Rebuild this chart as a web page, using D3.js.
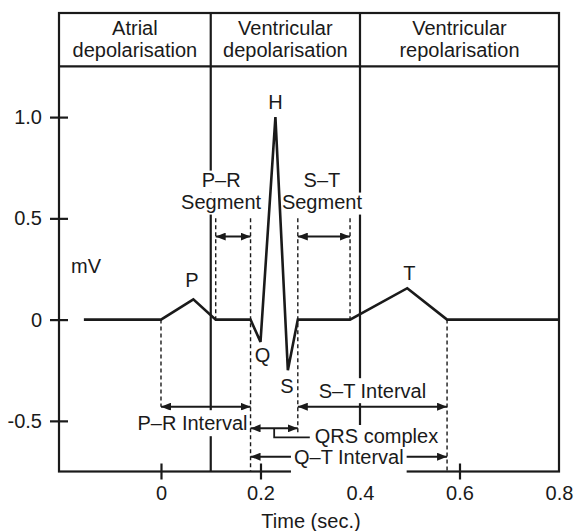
<!DOCTYPE html>
<html>
<head>
<meta charset="utf-8">
<script src="https://cdn.jsdelivr.net/npm/d3@7"></script>
<style>
  html, body { margin: 0; padding: 0; background: #fff; }
  svg { display: block; }
  text { font-family: "Liberation Sans", Arial, Helvetica, sans-serif; font-size: 20px; fill: #1a1a1a; }
</style>
</head>
<body>
<svg id="chart" width="576" height="531"></svg>
<script>
// ---- data ----
const ecgTime = [-0.155, 0, 0.065, 0.11, 0.18, 0.2, 0.23, 0.255, 0.275, 0.38, 0.495, 0.575, 0.8];
const ecgVolt = [0, 0, 0.1, 0, 0, -0.11, 1.0, -0.25, 0, 0, 0.155, 0, 0];

const peakNames = ["P", "Q", "H", "S", "T"];
const peakIndex = [2, 5, 6, 7, 10];

const xTicks = [0, 0.2, 0.4, 0.6, 0.8];
const yTicks = [-0.5, 0, 0.5, 1.0];

const phaseBounds = [-0.205, 0.1, 0.4, 0.8];
const phaseLine1 = ["Atrial", "Ventricular", "Ventricular"];
const phaseLine2 = ["depolarisation", "depolarisation", "repolarisation"];

const intervalNames = ["P–R Segment", "S–T Segment", "P–R Interval", "S–T Interval", "QRS complex", "Q–T Interval"];
const intervalStart = [0.11, 0.275, 0, 0.275, 0.18, 0.18];
const intervalEnd   = [0.18, 0.38, 0.18, 0.575, 0.275, 0.575];
const intervalLevel = [0.41, 0.41, -0.43, -0.43, -0.537, -0.677];

const dashTime   = [0, 0.11, 0.18, 0.275, 0.38, 0.575];
const dashTop    = [0, 0.5, 0.5, 0.5, 0.5, 0];
const dashBottom = [-0.43, 0, -0.75, -0.556, 0, -0.75];

// ---- layout ----
const ink = "#1a1a1a";
const svg = d3.select("#chart");
const x = d3.scaleLinear().domain([-0.205, 0.8]).range([59, 559]);
const y = d3.scaleLinear().domain([-0.75, 1.514]).range([471.5, 13]);
const headerValue = 1.25;
const yTopVal = 1.514, yBotVal = -0.75;

const defs = svg.append("defs");
defs.append("marker").attr("id", "ah")
  .attr("viewBox", "0 0 10 8").attr("refX", 10).attr("refY", 4)
  .attr("markerWidth", 10).attr("markerHeight", 8)
  .attr("markerUnits", "userSpaceOnUse").attr("orient", "auto-start-reverse")
  .append("path").attr("d", "M0,0L10,4L0,8Z").attr("fill", ink);

const gFrame = svg.append("g");
// frame
gFrame.append("rect")
  .attr("x", x(phaseBounds[0])).attr("y", y(yTopVal))
  .attr("width", x(phaseBounds[3]) - x(phaseBounds[0]))
  .attr("height", y(yBotVal) - y(yTopVal))
  .attr("fill", "none").attr("stroke", ink).attr("stroke-width", 2.2);
gFrame.append("line")
  .attr("x1", x(phaseBounds[0])).attr("x2", x(phaseBounds[3]))
  .attr("y1", y(headerValue)).attr("y2", y(headerValue))
  .attr("stroke", ink).attr("stroke-width", 2.2);
// phase dividers
const dividerBottom = [yBotVal, -0.52];
gFrame.selectAll("line.div").data([phaseBounds[1], phaseBounds[2]]).join("line")
  .attr("class", "div")
  .attr("x1", d => x(d)).attr("x2", d => x(d))
  .attr("y1", y(yTopVal)).attr("y2", (d, i) => y(dividerBottom[i]))
  .attr("stroke", ink).attr("stroke-width", 2.2);

// header labels
phaseLine1.forEach((t, i) => {
  const cx = (x(phaseBounds[i]) + x(phaseBounds[i + 1])) / 2;
  gFrame.append("text").attr("x", cx).attr("y", 35).attr("text-anchor", "middle").text(t);
  gFrame.append("text").attr("x", cx).attr("y", 56.5).attr("text-anchor", "middle").text(phaseLine2[i]);
});

// axes
const fmt = d => d === 0 ? "0" : d.toFixed(1);
const gy = svg.append("g").attr("transform", `translate(${x(phaseBounds[0])},0)`)
  .call(d3.axisLeft(y).tickValues(yTicks).tickSizeInner(9).tickSizeOuter(0).tickPadding(8).tickFormat(fmt));
gy.select(".domain").remove();
gy.selectAll(".tick line").attr("x1", 9).attr("stroke", ink).attr("stroke-width", 2.2);
gy.selectAll(".tick text").style("font-size", "20px").attr("fill", ink);

const gx = svg.append("g").attr("transform", `translate(0,${y(yBotVal)})`)
  .call(d3.axisBottom(x).tickValues(xTicks).tickSizeInner(8).tickSizeOuter(0).tickPadding(6).tickFormat(fmt));
gx.select(".domain").remove();
gx.selectAll(".tick line").attr("y1", -8).attr("stroke", ink).attr("stroke-width", 2.2)
  .filter(d => d === 0.4 || d === 0.8).remove();
gx.selectAll(".tick text").style("font-size", "20px").attr("fill", ink);

svg.append("text").attr("x", 311).attr("y", 528).attr("text-anchor", "middle").text("Time (sec.)");
svg.append("text").attr("x", 71).attr("y", 273).text("mV");

// interval arrows
const gArrows = svg.append("g");
intervalNames.forEach((n, i) => {
  gArrows.append("line")
    .attr("x1", x(intervalStart[i])).attr("x2", x(intervalEnd[i]))
    .attr("y1", y(intervalLevel[i])).attr("y2", y(intervalLevel[i]))
    .attr("stroke", ink).attr("stroke-width", 2)
    .attr("marker-start", "url(#ah)").attr("marker-end", "url(#ah)");
});

// labels with knock-out backgrounds
const gBg = svg.append("g");
const gLab = svg.append("g");
function label(lines, xs, ys, anchor, padTop, padBot, padX) {
  lines.forEach((t, k) => {
    const el = gLab.append("text").attr("x", xs).attr("y", ys[k]).attr("text-anchor", anchor).text(t);
    const b = el.node().getBBox();
    gBg.append("rect").attr("x", b.x - padX).attr("y", b.y - padTop + 4)
      .attr("width", b.width + 2 * padX).attr("height", b.height + padTop + padBot - 4)
      .attr("fill", "#fff");
  });
}
intervalNames.forEach((n, i) => {
  const x0 = x(intervalStart[i]), x1 = x(intervalEnd[i]), yy = y(intervalLevel[i]);
  const cx = (x0 + x1) / 2;
  if (i === 0 || i === 1) {
    const parts = n.split(" ");
    label(parts, cx + (i === 0 ? -12 : -2), [yy - 50, yy - 28], "middle", 2, 2, 2);
  } else if (i === 2) {
    label([n], x1 - 3, [yy + 23.5], "end", 6, 2, 1);
  } else if (i === 3) {
    label([n], cx, [yy - 8.5], "middle", 6, 1, 2);
  } else if (i === 4) {
    label([n], x1 + 17, [yy + 15], "start", 3, 2, 1);
    gArrows.append("path")
      .attr("d", `M${cx},${yy}V${yy + 9}H${x1 + 12}`)
      .attr("fill", "none").attr("stroke", ink).attr("stroke-width", 1.8);
  } else {
    label([n], cx, [yy + 7], "middle", 2, 6, 3);
  }
});

// dashed guides
svg.append("g").selectAll("line").data(dashTime).join("line")
  .attr("x1", d => x(d)).attr("x2", d => x(d))
  .attr("y1", (d, i) => y(dashTop[i])).attr("y2", (d, i) => y(dashBottom[i]))
  .attr("stroke", ink).attr("stroke-width", 1.4).attr("stroke-dasharray", "4,3");

// ECG trace
const pts = ecgTime.map((t, i) => [t, ecgVolt[i]]);
svg.append("path").datum(pts)
  .attr("d", d3.line().x(d => x(d[0])).y(d => y(d[1])))
  .attr("fill", "none").attr("stroke", ink).attr("stroke-width", 2.6)
  .attr("stroke-linejoin", "miter");

// peak labels
const peakDx = [-1.5, 2, 0, -1, 2];
const peakDy = [-12, 20, -8, 23, -8];
peakNames.forEach((n, k) => {
  const i = peakIndex[k];
  svg.append("text")
    .attr("x", x(ecgTime[i]) + peakDx[k]).attr("y", y(ecgVolt[i]) + peakDy[k])
    .attr("text-anchor", "middle").text(n);
});
</script>
</body>
</html>
